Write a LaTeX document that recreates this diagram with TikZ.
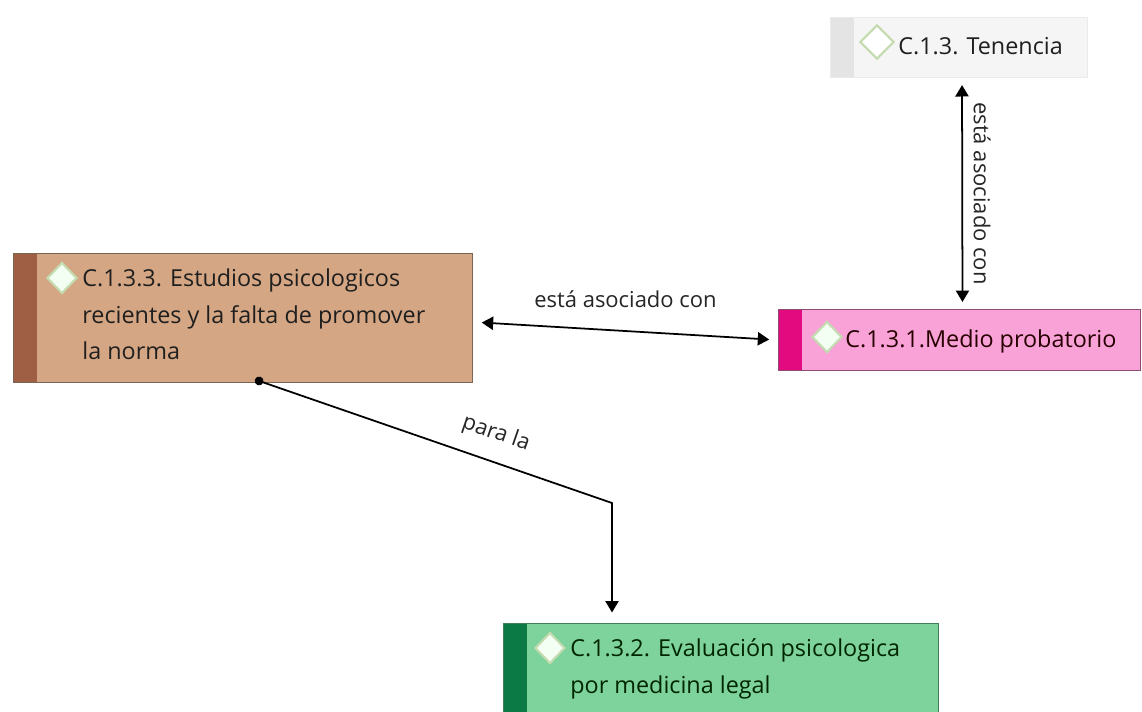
\documentclass[tikz,border=0pt]{standalone}
\usepackage{fontspec}
\setmainfont{Open Sans}
\usetikzlibrary{shapes.geometric,arrows.meta}

\definecolor{tenfill}{HTML}{F5F5F5}
\definecolor{tenbar}{HTML}{E4E4E4}
\definecolor{tenline}{HTML}{EAEAEA}
\definecolor{estfill}{HTML}{D5A683}
\definecolor{estbar}{HTML}{9E5F45}
\definecolor{estline}{HTML}{7A6555}
\definecolor{medfill}{HTML}{F8A2D8}
\definecolor{medbar}{HTML}{E3097F}
\definecolor{medline}{HTML}{8A4D6E}
\definecolor{evafill}{HTML}{7ED29C}
\definecolor{evabar}{HTML}{0C7A44}
\definecolor{evaline}{HTML}{3F7F58}
\definecolor{gemline}{HTML}{C4DBB0}

\tikzset{
  box/.style={rectangle, draw=#1line, fill=#1fill, line width=0.6pt,
    anchor=north west, inner sep=0pt,
    path picture={\fill[#1bar] (path picture bounding box.north west)
      rectangle ([xshift=0.46cm]path picture bounding box.south west);}},
  txt/.style={anchor=north west, align=left, inner sep=0pt,
    font=\fontsize{13.3}{21}\selectfont},
  gem/.style={diamond, draw=gemline, fill=#1, line width=1.2pt, inner sep=0pt,
    minimum width=0.6cm, minimum height=0.62cm},
  link/.style={line width=1pt, {Triangle[length=6.5pt,width=7.5pt]}-{Triangle[length=6.5pt,width=7.5pt]}},
  lbl/.style={font=\fontsize{12.5}{15}\selectfont, text=black!85, inner sep=1pt}
}

\begin{document}
\begin{tikzpicture}[x=0.02cm, y=-0.02cm]
    \useasboundingbox[fill=white] (0,0) rectangle (1142,711);

    \node at (830,17) [box=ten, minimum width=5.14cm, minimum height=1.2cm] (tenencia) {};
    \node at (13,253) [box=est, minimum width=9.18cm, minimum height=2.58cm] (estudios) {};
    \node at (778,309) [box=med, minimum width=7.24cm, minimum height=1.22cm] (medio) {};
    \node at (503,623) [box=eva, minimum width=8.7cm, minimum height=2cm] (evaluacion) {};

    \node at (877,42) [gem=white, minimum width=0.68cm, minimum height=0.68cm] (gem1) {};
    \node at (62,278) [gem=white!95!green] (gem2) {};
    \node at (827,337) [gem=white!95!green] (gem3) {};
    \node at (550,648) [gem=white!95!green] (gem4) {};

    \node at (898,54) [txt, anchor=base west, text=black!88] (tenencia-txt) {C.1.3. Tenencia};
    \node at (82,268) [txt, text=black!88] (estudios-txt) {C.1.3.3. Estudios psicologicos\\recientes y la falta de promover\\la norma};
    \node at (845,347) [txt, anchor=base west, text=black!85!red] (medio-txt) {C.1.3.1.Medio probatorio};
    \node at (570,638) [txt, text=black!85!green] (evaluacion-txt) {C.1.3.2. Evaluación psicologica\\por medicina legal};

    \draw[link, shorten <=5pt, shorten >=5pt] ([yshift=-0.08cm]estudios.east) -- (medio.west)
        node[lbl, midway, above=12pt] (lbl1) {está asociado con};
    \draw[link, shorten <=4pt, shorten >=4pt] ([xshift=0.06cm]tenencia.south) -- ([xshift=0.06cm]medio.north)
        node[lbl, midway, rotate=-90, anchor=south, yshift=5pt] (lbl2) {está asociado con};

    \coordinate (bend) at (612,503);
    \draw[line width=1pt, {Circle[length=5pt]}-{Triangle[length=6.5pt,width=7.5pt]}, shorten >=6pt]
        ([xshift=4.84cm,yshift=2pt]estudios.south west) -- (bend)
        node[lbl, pos=0.65, sloped, above=8pt] (lbl3) {para la}
        -- (bend |- evaluacion.north);
\end{tikzpicture}
\end{document}
